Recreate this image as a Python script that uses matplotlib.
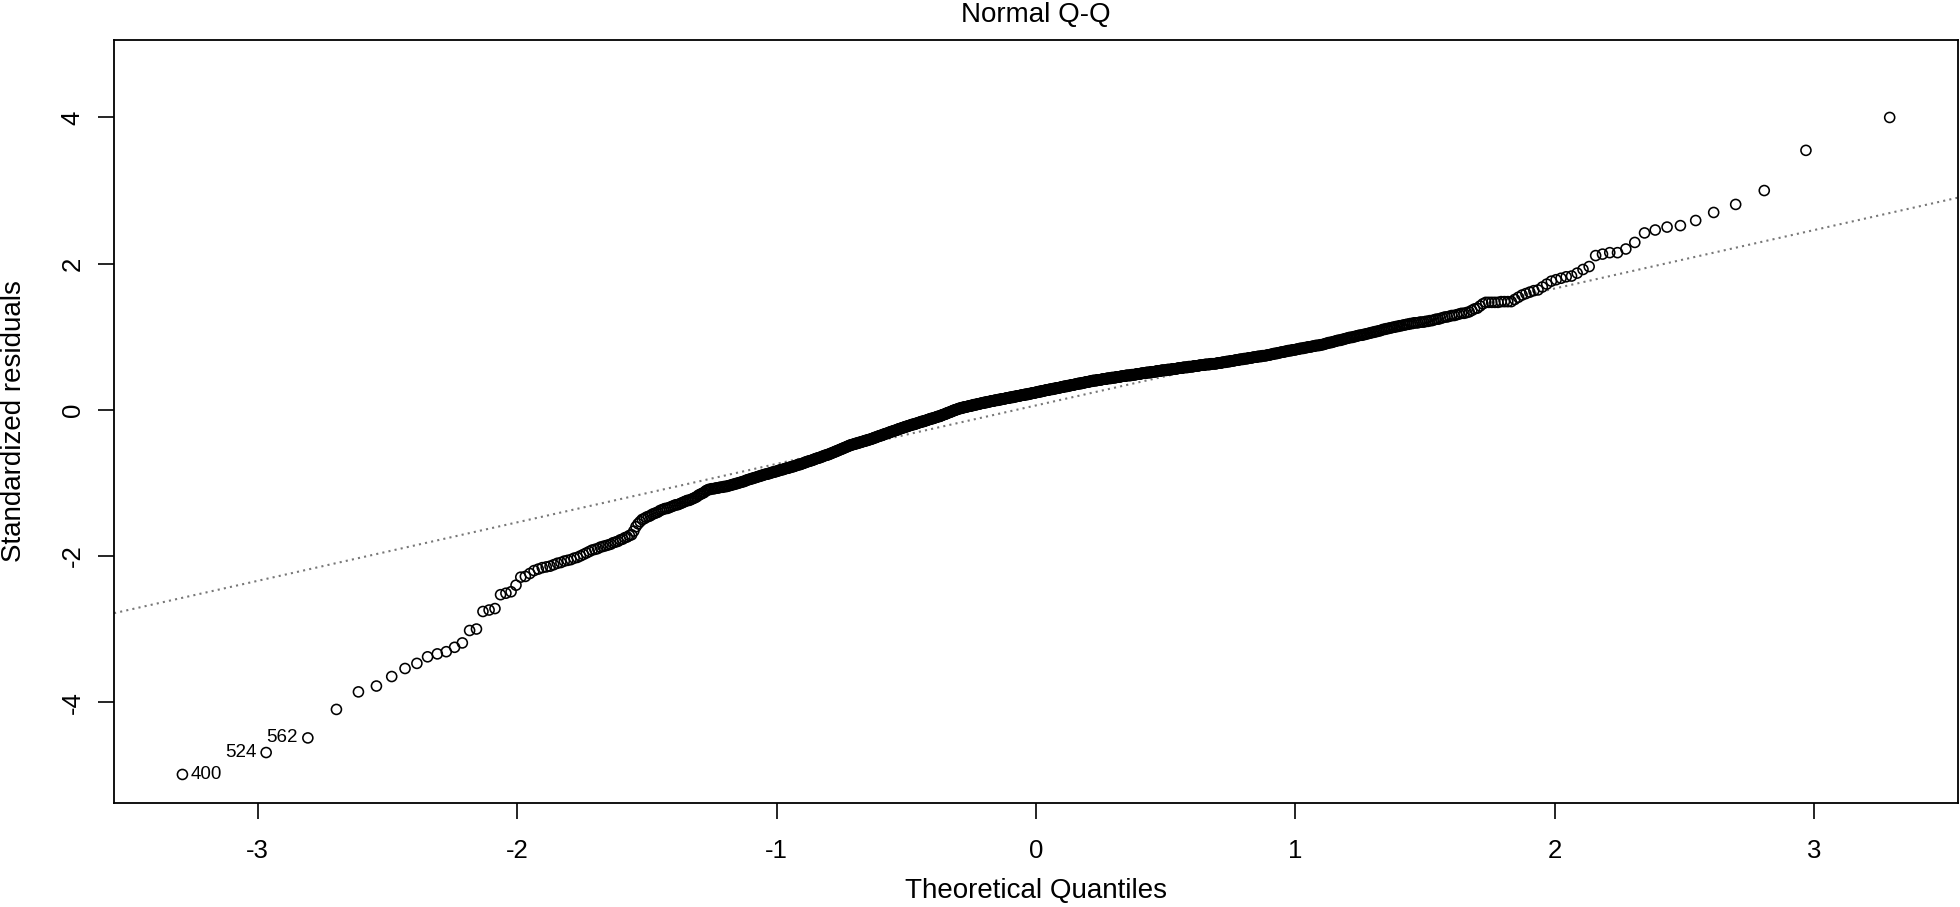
import matplotlib
matplotlib.use('Agg')
import matplotlib.pyplot as plt
from statistics import NormalDist

plt.rcParams['font.family'] = ['Liberation Sans', 'DejaVu Sans']
plt.rcParams['axes.unicode_minus'] = False

# sorted standardized residuals (n = 1000)
residuals = [
    -4.99, -4.69, -4.49, -4.10, -3.86, -3.78, -3.65, -3.54, -3.47, -3.38, -3.34, -3.31, -3.25, -3.19, -3.02, -3.00, -2.76, -2.74, -2.72, -2.53,
    -2.51, -2.49, -2.40, -2.29, -2.28, -2.24, -2.20, -2.18, -2.16, -2.15, -2.14, -2.12, -2.10, -2.09, -2.07, -2.06, -2.05, -2.03, -2.02, -2.00,
    -1.98, -1.96, -1.94, -1.92, -1.91, -1.90, -1.88, -1.87, -1.86, -1.85, -1.84, -1.82, -1.81, -1.80, -1.78, -1.77, -1.75, -1.74, -1.72, -1.71,
    -1.66, -1.60, -1.56, -1.53, -1.50, -1.49, -1.47, -1.46, -1.45, -1.43, -1.42, -1.41, -1.40, -1.38, -1.37, -1.36, -1.35, -1.35, -1.34, -1.33,
    -1.32, -1.31, -1.30, -1.30, -1.29, -1.28, -1.27, -1.26, -1.25, -1.24, -1.24, -1.23, -1.22, -1.21, -1.20, -1.19, -1.17, -1.16, -1.15, -1.14,
    -1.13, -1.11, -1.10, -1.09, -1.09, -1.08, -1.08, -1.08, -1.07, -1.07, -1.07, -1.06, -1.06, -1.06, -1.05, -1.05, -1.05, -1.04, -1.04, -1.03,
    -1.03, -1.02, -1.02, -1.01, -1.01, -1.00, -1.00, -0.99, -0.99, -0.98, -0.98, -0.97, -0.96, -0.96, -0.95, -0.95, -0.94, -0.94, -0.93, -0.93,
    -0.92, -0.92, -0.91, -0.91, -0.90, -0.90, -0.89, -0.89, -0.88, -0.88, -0.88, -0.87, -0.87, -0.86, -0.86, -0.85, -0.85, -0.85, -0.84, -0.84,
    -0.83, -0.83, -0.82, -0.82, -0.82, -0.81, -0.81, -0.80, -0.80, -0.80, -0.79, -0.79, -0.78, -0.78, -0.78, -0.77, -0.77, -0.76, -0.76, -0.75,
    -0.75, -0.75, -0.74, -0.74, -0.73, -0.73, -0.72, -0.72, -0.71, -0.71, -0.70, -0.70, -0.70, -0.69, -0.69, -0.68, -0.68, -0.67, -0.67, -0.66,
    -0.66, -0.66, -0.65, -0.65, -0.64, -0.64, -0.63, -0.63, -0.62, -0.62, -0.62, -0.61, -0.61, -0.60, -0.60, -0.59, -0.59, -0.58, -0.58, -0.57,
    -0.57, -0.56, -0.56, -0.55, -0.55, -0.54, -0.54, -0.53, -0.53, -0.52, -0.52, -0.51, -0.51, -0.50, -0.50, -0.49, -0.49, -0.48, -0.48, -0.48,
    -0.47, -0.47, -0.47, -0.46, -0.46, -0.46, -0.45, -0.45, -0.45, -0.44, -0.44, -0.44, -0.43, -0.43, -0.43, -0.42, -0.42, -0.42, -0.41, -0.41,
    -0.41, -0.40, -0.40, -0.40, -0.39, -0.39, -0.38, -0.38, -0.38, -0.37, -0.37, -0.36, -0.36, -0.36, -0.35, -0.35, -0.35, -0.34, -0.34, -0.33,
    -0.33, -0.33, -0.32, -0.32, -0.32, -0.31, -0.31, -0.30, -0.30, -0.30, -0.29, -0.29, -0.29, -0.28, -0.28, -0.28, -0.27, -0.27, -0.26, -0.26,
    -0.26, -0.25, -0.25, -0.25, -0.24, -0.24, -0.24, -0.23, -0.23, -0.23, -0.22, -0.22, -0.22, -0.21, -0.21, -0.21, -0.20, -0.20, -0.20, -0.20,
    -0.19, -0.19, -0.19, -0.18, -0.18, -0.18, -0.17, -0.17, -0.17, -0.16, -0.16, -0.16, -0.16, -0.15, -0.15, -0.15, -0.14, -0.14, -0.14, -0.13,
    -0.13, -0.13, -0.12, -0.12, -0.12, -0.12, -0.11, -0.11, -0.11, -0.10, -0.10, -0.10, -0.09, -0.09, -0.09, -0.09, -0.08, -0.08, -0.07, -0.07,
    -0.07, -0.06, -0.06, -0.06, -0.05, -0.05, -0.04, -0.04, -0.04, -0.03, -0.03, -0.03, -0.02, -0.02, -0.01, -0.01, -0.01, 0.00, 0.00, 0.00,
    0.01, 0.01, 0.01, 0.02, 0.02, 0.02, 0.02, 0.03, 0.03, 0.03, 0.03, 0.04, 0.04, 0.04, 0.04, 0.04, 0.05, 0.05, 0.05, 0.05,
    0.05, 0.06, 0.06, 0.06, 0.06, 0.07, 0.07, 0.07, 0.07, 0.07, 0.08, 0.08, 0.08, 0.08, 0.08, 0.09, 0.09, 0.09, 0.09, 0.09,
    0.10, 0.10, 0.10, 0.10, 0.10, 0.11, 0.11, 0.11, 0.11, 0.11, 0.12, 0.12, 0.12, 0.12, 0.12, 0.12, 0.13, 0.13, 0.13, 0.13,
    0.13, 0.13, 0.14, 0.14, 0.14, 0.14, 0.14, 0.15, 0.15, 0.15, 0.15, 0.15, 0.15, 0.16, 0.16, 0.16, 0.16, 0.16, 0.16, 0.17,
    0.17, 0.17, 0.17, 0.17, 0.17, 0.18, 0.18, 0.18, 0.18, 0.18, 0.19, 0.19, 0.19, 0.19, 0.19, 0.19, 0.20, 0.20, 0.20, 0.20,
    0.20, 0.20, 0.21, 0.21, 0.21, 0.21, 0.21, 0.21, 0.22, 0.22, 0.22, 0.22, 0.22, 0.23, 0.23, 0.23, 0.23, 0.23, 0.23, 0.24,
    0.24, 0.24, 0.24, 0.24, 0.25, 0.25, 0.25, 0.25, 0.25, 0.26, 0.26, 0.26, 0.26, 0.26, 0.27, 0.27, 0.27, 0.27, 0.27, 0.27,
    0.28, 0.28, 0.28, 0.28, 0.28, 0.28, 0.29, 0.29, 0.29, 0.29, 0.29, 0.30, 0.30, 0.30, 0.30, 0.30, 0.30, 0.31, 0.31, 0.31,
    0.31, 0.31, 0.32, 0.32, 0.32, 0.32, 0.32, 0.32, 0.33, 0.33, 0.33, 0.33, 0.33, 0.34, 0.34, 0.34, 0.34, 0.34, 0.34, 0.35,
    0.35, 0.35, 0.35, 0.35, 0.36, 0.36, 0.36, 0.36, 0.36, 0.36, 0.37, 0.37, 0.37, 0.37, 0.37, 0.38, 0.38, 0.38, 0.38, 0.38,
    0.38, 0.39, 0.39, 0.39, 0.39, 0.39, 0.40, 0.40, 0.40, 0.40, 0.40, 0.40, 0.40, 0.41, 0.41, 0.41, 0.41, 0.41, 0.41, 0.41,
    0.42, 0.42, 0.42, 0.42, 0.42, 0.42, 0.42, 0.43, 0.43, 0.43, 0.43, 0.43, 0.43, 0.43, 0.44, 0.44, 0.44, 0.44, 0.44, 0.44,
    0.44, 0.45, 0.45, 0.45, 0.45, 0.45, 0.45, 0.45, 0.46, 0.46, 0.46, 0.46, 0.46, 0.46, 0.46, 0.47, 0.47, 0.47, 0.47, 0.47,
    0.47, 0.47, 0.47, 0.48, 0.48, 0.48, 0.48, 0.48, 0.48, 0.48, 0.49, 0.49, 0.49, 0.49, 0.49, 0.49, 0.49, 0.50, 0.50, 0.50,
    0.50, 0.50, 0.50, 0.50, 0.51, 0.51, 0.51, 0.51, 0.51, 0.51, 0.51, 0.52, 0.52, 0.52, 0.52, 0.52, 0.52, 0.52, 0.53, 0.53,
    0.53, 0.53, 0.53, 0.53, 0.53, 0.54, 0.54, 0.54, 0.54, 0.54, 0.54, 0.54, 0.54, 0.55, 0.55, 0.55, 0.55, 0.55, 0.55, 0.55,
    0.56, 0.56, 0.56, 0.56, 0.56, 0.56, 0.56, 0.57, 0.57, 0.57, 0.57, 0.57, 0.57, 0.57, 0.58, 0.58, 0.58, 0.58, 0.58, 0.58,
    0.58, 0.59, 0.59, 0.59, 0.59, 0.59, 0.59, 0.59, 0.60, 0.60, 0.60, 0.60, 0.60, 0.60, 0.60, 0.61, 0.61, 0.61, 0.61, 0.61,
    0.61, 0.61, 0.62, 0.62, 0.62, 0.62, 0.62, 0.62, 0.62, 0.63, 0.63, 0.63, 0.63, 0.63, 0.63, 0.63, 0.63, 0.64, 0.64, 0.64,
    0.64, 0.64, 0.64, 0.65, 0.65, 0.65, 0.65, 0.65, 0.66, 0.66, 0.66, 0.66, 0.66, 0.67, 0.67, 0.67, 0.67, 0.67, 0.68, 0.68,
    0.68, 0.68, 0.68, 0.69, 0.69, 0.69, 0.69, 0.69, 0.70, 0.70, 0.70, 0.70, 0.70, 0.71, 0.71, 0.71, 0.71, 0.71, 0.72, 0.72,
    0.72, 0.72, 0.72, 0.73, 0.73, 0.73, 0.73, 0.73, 0.74, 0.74, 0.74, 0.74, 0.74, 0.75, 0.75, 0.75, 0.75, 0.76, 0.76, 0.76,
    0.77, 0.77, 0.77, 0.77, 0.78, 0.78, 0.78, 0.79, 0.79, 0.79, 0.79, 0.80, 0.80, 0.80, 0.81, 0.81, 0.81, 0.81, 0.82, 0.82,
    0.82, 0.82, 0.83, 0.83, 0.83, 0.84, 0.84, 0.84, 0.84, 0.85, 0.85, 0.85, 0.86, 0.86, 0.86, 0.86, 0.87, 0.87, 0.87, 0.88,
    0.88, 0.88, 0.88, 0.89, 0.89, 0.89, 0.90, 0.90, 0.91, 0.91, 0.92, 0.92, 0.92, 0.93, 0.93, 0.94, 0.94, 0.95, 0.95, 0.95,
    0.96, 0.96, 0.97, 0.97, 0.98, 0.98, 0.99, 0.99, 0.99, 1.00, 1.00, 1.01, 1.01, 1.02, 1.02, 1.02, 1.03, 1.03, 1.04, 1.04,
    1.05, 1.05, 1.06, 1.06, 1.07, 1.07, 1.08, 1.08, 1.09, 1.10, 1.10, 1.11, 1.11, 1.12, 1.12, 1.13, 1.13, 1.14, 1.14, 1.15,
    1.15, 1.16, 1.16, 1.17, 1.17, 1.18, 1.18, 1.19, 1.19, 1.19, 1.20, 1.20, 1.20, 1.21, 1.21, 1.22, 1.22, 1.23, 1.24, 1.24,
    1.25, 1.26, 1.27, 1.27, 1.28, 1.29, 1.29, 1.30, 1.31, 1.32, 1.32, 1.33, 1.34, 1.36, 1.38, 1.39, 1.42, 1.45, 1.47, 1.47,
    1.47, 1.47, 1.47, 1.48, 1.48, 1.48, 1.48, 1.51, 1.54, 1.57, 1.59, 1.61, 1.63, 1.64, 1.68, 1.72, 1.76, 1.78, 1.80, 1.82,
    1.83, 1.87, 1.92, 1.96, 2.11, 2.13, 2.15, 2.15, 2.20, 2.29, 2.42, 2.46, 2.50, 2.52, 2.59, 2.70, 2.81, 3.00, 3.55, 4.00,
]

# labelled observations (row names) and the rank they sit at
id_labels = ['400', '524', '562']
id_ranks = [0, 1, 2]
id_side = ['right', 'left', 'left']

# dotted reference line (qqline)
line_intercept = 0.06
line_slope = 0.80

x_ticks = [-3, -2, -1, 0, 1, 2, 3]
y_ticks = [-4, -2, 0, 2, 4]

# theoretical quantiles, same as R's ppoints for n > 10
n = len(residuals)
theo = [NormalDist().inv_cdf((i + 0.5) / n) for i in range(n)]

fig = plt.figure(figsize=(19.6, 9.07), dpi=100)
ax = fig.add_axes([0.0582, 0.1147, 0.9408, 0.8412])

ax.scatter(theo, residuals, s=52, facecolors='none', edgecolors='black',
           linewidths=1.15, zorder=3)
ax.axline((0, line_intercept), slope=line_slope, color='#777777', lw=1.5,
          ls=(0, (1, 2)), zorder=2)

for lab, r, side in zip(id_labels, id_ranks, id_side):
    dx = 6 if side == 'right' else -7
    ax.annotate(lab, (theo[r], residuals[r]), xytext=(dx, 0),
                textcoords='offset points', ha='left' if side == 'right' else 'right',
                va='center', fontsize=13.5)

ax.set_xlim(-3.554, 3.554)
ax.set_ylim(-5.38, 5.06)
ax.set_xticks(x_ticks)
ax.set_yticks(y_ticks, labels=[str(t) for t in y_ticks], rotation=90, va='center')
ax.tick_params(axis='both', direction='out', length=11.2, width=1.2,
               labelsize=18.5)
ax.tick_params(axis='x', pad=15)
ax.tick_params(axis='y', pad=10)
for s in ax.spines.values():
    s.set_linewidth(1.3)

ax.set_title('Normal Q-Q', fontsize=20, pad=13)
ax.set_xlabel('Theoretical Quantiles', fontsize=20)
ax.xaxis.set_label_coords(0.5, -0.1153)
ax.xaxis.label.set_va('center')
ax.set_ylabel('Standardized residuals', fontsize=20)
ax.yaxis.set_label_coords(-0.0542, 0.5)
ax.yaxis.label.set_va('center')

fig.savefig('out.png', dpi=100)
